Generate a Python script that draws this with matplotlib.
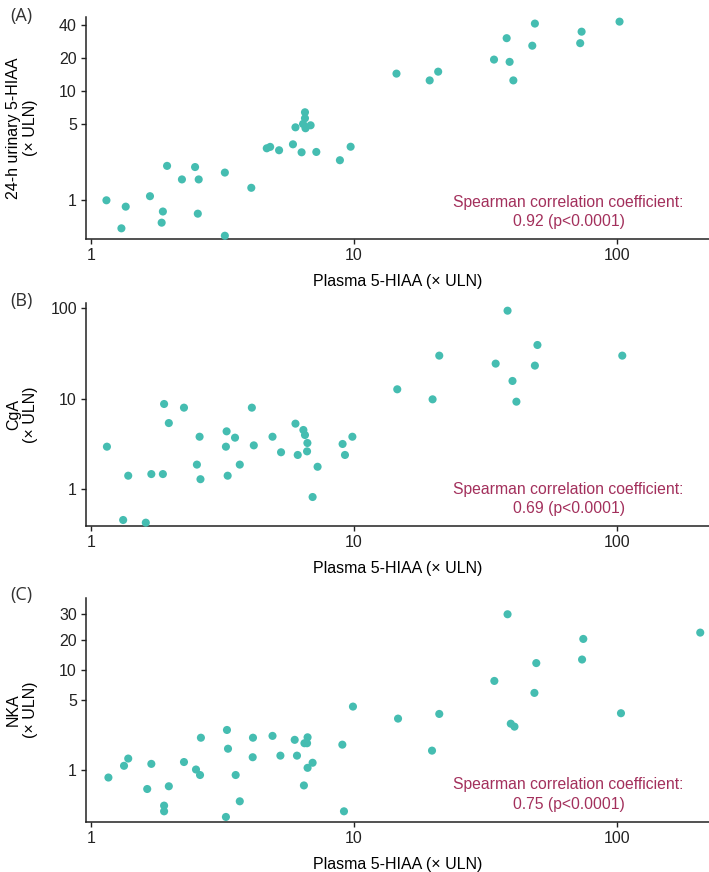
import matplotlib
matplotlib.use("Agg")
import matplotlib.pyplot as plt
from matplotlib.ticker import FixedLocator, FixedFormatter, NullLocator

plt.rcParams['font.family'] = ['Liberation Sans', 'DejaVu Sans']

# panel A: plasma 5-HIAA vs 24-h urinary 5-HIAA (x ULN)
a_x = [1.14, 1.35, 1.30, 1.67, 1.87, 1.85, 1.94, 2.21, 2.48, 2.56, 2.54, 3.22, 3.22,
       4.06, 4.65, 4.79, 5.18, 5.85, 6.31, 5.98, 6.50, 6.50, 6.39, 6.53, 6.83, 7.18,
       8.83, 9.70, 14.5, 19.4, 20.9, 34.1, 38.1, 39.1, 40.4, 48.8, 47.7, 73.5, 72.6, 102.5]
a_y = [1.00, 0.875, 0.555, 1.09, 0.79, 0.625, 2.06, 1.55, 2.01, 1.55, 0.755, 1.79, 0.475,
       1.30, 2.98, 3.07, 2.86, 3.24, 2.74, 4.63, 6.35, 5.6, 4.97, 4.54, 4.83, 2.76,
       2.32, 3.08, 14.3, 12.4, 14.9, 19.2, 30.1, 18.3, 12.4, 40.9, 25.7, 34.5, 27.1, 42.6]

# panel B: plasma 5-HIAA vs CgA (x ULN)
b_x = [1.145, 1.38, 1.32, 1.61, 1.69, 1.87, 1.89, 1.97, 2.25, 2.58, 2.52, 2.60, 3.27, 3.25,
       3.30, 3.52, 3.67, 4.08, 4.15, 4.89, 5.27, 5.98, 6.10, 6.41, 6.50, 6.64, 6.62, 6.95,
       7.26, 9.04, 9.23, 9.85, 14.6, 19.9, 21.1, 34.6, 38.4, 40.1, 41.5, 48.8, 49.9, 105]
b_y = [2.95, 1.41, 0.457, 0.427, 1.47, 1.47, 8.74, 5.38, 7.96, 3.80, 1.87, 1.29, 4.36, 2.95,
       1.41, 3.71, 1.87, 7.96, 3.05, 3.80, 2.56, 5.30, 2.39, 4.51, 3.97, 3.24, 2.62, 0.82,
       1.77, 3.16, 2.39, 3.80, 12.7, 9.84, 29.9, 24.4, 93.8, 15.7, 9.27, 23.2, 39.2, 29.9]

# panel C: plasma 5-HIAA vs NKA (x ULN)
c_x = [1.16, 1.33, 1.38, 1.63, 1.69, 1.89, 1.89, 1.97, 2.25, 2.50, 2.59, 2.61, 3.28, 3.31,
       3.25, 3.54, 3.67, 4.12, 4.11, 4.89, 5.24, 5.94, 6.06, 6.47, 6.62, 6.65, 6.65, 6.95,
       6.44, 9.02, 9.15, 9.9, 14.7, 19.8, 21.1, 34.2, 38.4, 39.5, 40.8, 48.6, 49.4, 73.8,
       74.6, 103.8, 208]
c_y = [0.84, 1.10, 1.30, 0.645, 1.15, 0.44, 0.386, 0.687, 1.20, 1.01, 0.89, 2.10, 2.51, 1.63,
       0.339, 0.89, 0.486, 2.10, 1.34, 2.19, 1.39, 2.00, 1.39, 1.85, 1.85, 2.12, 1.05, 1.18,
       0.70, 1.79, 0.386, 4.30, 3.26, 1.56, 3.63, 7.76, 36.0, 2.90, 2.71, 5.89, 11.7, 12.7,
       20.4, 3.69, 23.6]

panels = [
    ("(A)", a_x, a_y, "24-h urinary 5-HIAA\n(× ULN)", (0.441, 47.3),
     [1, 5, 10, 20, 40], ["1", "5", "10", "20", "40"], "0.92 (p<0.0001)"),
    ("(B)", b_x, b_y, "CgA\n(× ULN)", (0.395, 113),
     [1, 10, 100], ["1", "10", "100"], "0.69 (p<0.0001)"),
    ("(C)", c_x, c_y, "NKA\n(× ULN)", (0.304, 52),
     [1, 5, 10, 20, 36], ["1", "5", "10", "20", "30"], "0.75 (p<0.0001)"),
]

# axes boxes in figure fraction (left, bottom, width, height)
boxes = [(0.1213, 0.7256, 0.8787, 0.2553),
         (0.1213, 0.3971, 0.8787, 0.2550),
         (0.1213, 0.0577, 0.8787, 0.2562)]
letter_y = [0.982, 0.655, 0.318]

point_col = "#45BDB1"
text_col = "#A3305C"

fig = plt.figure(figsize=(7.09, 8.72), dpi=100)

for (letter, xs, ys, ylab, ylim, yt, ytl, rho), box, ly in zip(panels, boxes, letter_y):
    ax = fig.add_axes(box)
    ax.scatter(xs, ys, s=34, color=point_col, edgecolors='none', zorder=3, clip_on=False)
    ax.set_xscale('log')
    ax.set_yscale('log')
    ax.set_xlim(0.953, 224.6)
    ax.set_ylim(*ylim)
    ax.xaxis.set_major_locator(FixedLocator([1, 10, 100]))
    ax.xaxis.set_major_formatter(FixedFormatter(["1", "10", "100"]))
    ax.xaxis.set_minor_locator(NullLocator())
    ax.yaxis.set_major_locator(FixedLocator(yt))
    ax.yaxis.set_major_formatter(FixedFormatter(ytl))
    ax.yaxis.set_minor_locator(NullLocator())
    for side in ['top', 'right']:
        ax.spines[side].set_visible(False)
    for side in ['left', 'bottom']:
        ax.spines[side].set_linewidth(1.1)
        ax.spines[side].set_color('#222222')
    ax.tick_params(axis='both', length=3.5, width=1.0, color='#222222',
                   labelsize=11.5, labelcolor='#222222', pad=3)
    ax.set_xlabel("Plasma 5-HIAA (× ULN)", fontsize=11.5, labelpad=8)
    ax.set_ylabel(ylab, fontsize=11.5, linespacing=1.15)
    ax.yaxis.set_label_coords(-0.077, 0.5)
    ax.text(0.7745, 0.045, "Spearman correlation coefficient:\n" + rho,
            transform=ax.transAxes, ha='center', va='bottom', multialignment='center',
            fontsize=11.3, color=text_col, linespacing=1.35)
    fig.text(0.014, ly, letter, fontsize=13, color='#333333',
             family=['Open Sans', 'DejaVu Sans'], va='center', ha='left')

fig.savefig("out.png", dpi=100)
